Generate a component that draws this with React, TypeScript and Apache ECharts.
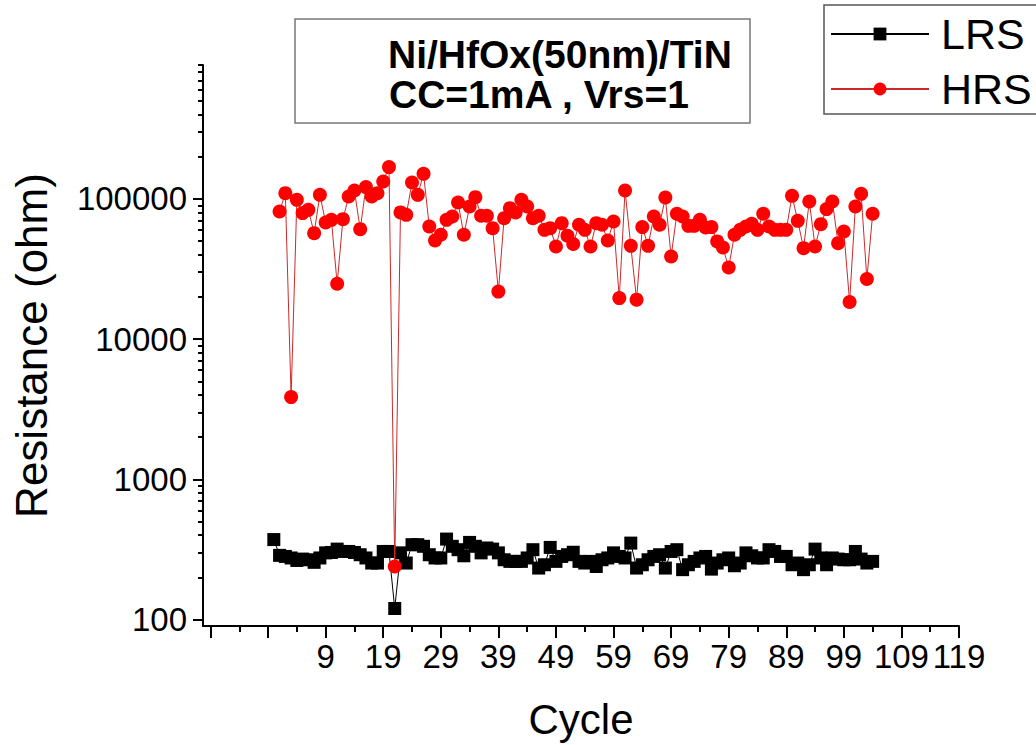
import React, { useEffect, useRef } from "react";
import * as echarts from "echarts";

// ---- data ----
const lrsCycles: number[] = Array.from({ length: 105 }, (_, i) => i); // 0..104
const lrsValues: number[] = [
  372, 287, 282, 275, 264, 270, 267, 256, 275, 299,
  301, 318, 306, 306, 301, 290, 275, 253, 253, 306,
  306, 120, 299, 253, 342, 342, 333, 290, 275, 275,
  375, 333, 315, 285, 355, 333, 299, 324, 318, 299,
  267, 260, 260, 260, 275, 315, 233, 246, 327, 260,
  282, 290, 302, 260, 253, 260, 239, 267, 275, 299,
  282, 275, 351, 233, 246, 267, 282, 290, 233, 306,
  315, 227, 246, 260, 275, 282, 229, 253, 267, 275,
  242, 253, 299, 285, 275, 275, 315, 306, 282, 282,
  246, 253, 227, 246, 318, 275, 246, 275, 270, 267,
  267, 306, 270, 253, 260,
];
const hrsCycles: number[] = Array.from({ length: 104 }, (_, i) => i + 1); // 1..104
const hrsValues: number[] = [
  81200, 109800, 3860, 98400, 79100, 83500, 56900, 106800, 67800, 70800,
  24800, 71600, 103800, 114600, 60800, 121200, 103800, 109800, 132900, 168300,
  239, 80000, 76900, 130700, 106800, 150700, 63500, 50500, 55400, 70800,
  74800, 94100, 55400, 88100, 102800, 75700, 75700, 61800, 21800, 72800,
  85800, 80000, 98400, 88100, 72800, 75700, 60100, 61800, 45700, 67100,
  54500, 47600, 65300, 60100, 45700, 67100, 65300, 50500, 68900, 19600,
  114600, 46200, 19100, 62900, 46200, 74800, 65300, 102200, 38800, 78200,
  74800, 64200, 64200, 70800, 62500, 62900, 49700, 45000, 32400, 55400,
  60100, 63500, 66400, 60100, 78200, 63500, 60100, 60100, 60100, 105000,
  69700, 44500, 95700, 45700, 66000, 84500, 95700, 48300, 58500, 18400,
  88100, 108500, 26800, 78200,
];
const xMajorTicks: number[] = [-11, -1, 9, 19, 29, 39, 49, 59, 69, 79, 89, 99, 109, 119];
const xLabelTicks: number[] = [9, 19, 29, 39, 49, 59, 69, 79, 89, 99, 109, 119];
const xMinorTicks: number[] = [-6, 4, 14, 24, 34, 44, 54, 64, 74, 84, 94, 104, 114];
const yMajorTicks: number[] = [100, 1000, 10000, 100000];
const yMinorTicks: number[] = [
  200, 300, 400, 500, 600, 700, 800, 900,
  2000, 3000, 4000, 5000, 6000, 7000, 8000, 9000,
  20000, 30000, 40000, 50000, 60000, 70000, 80000, 90000,
  200000, 300000, 400000, 500000, 600000, 700000, 800000, 900000,
];
const titleLines: string[] = ["Ni/HfOx(50nm)/TiN", "CC=1mA , Vrs=1"];

const FONT = "'Liberation Sans', Arial, sans-serif";

export default function App() {
  const ref = useRef<HTMLDivElement>(null);
  useEffect(() => {
    if (!ref.current) return;
    const chart = echarts.init(ref.current, undefined, { renderer: "svg" });
    const xMin = -12.3;
    const xMax = 119;
    const yMin = 90;
    const yMax = 900000;
    const axisLineStyle = { color: "#000", width: 2 };
    chart.setOption({
      animation: false,
      backgroundColor: "#fff",
      textStyle: { fontFamily: FONT },
      grid: { left: 203, right: 77, top: 65, bottom: 119, containLabel: false, outerBoundsMode: "none" },
      legend: {
        data: ["LRS", "HRS"],
        orient: "vertical",
        left: 824,
        top: 5,
        width: 209,
        padding: [6, 6, 2, 6],
        itemGap: 9,
        itemWidth: 98,
        itemHeight: 16,
        borderColor: "#555",
        borderWidth: 1.5,
        textStyle: { fontSize: 43, color: "#000", fontFamily: FONT, padding: [0, 0, 0, 7], lineHeight: 46 },
      },
      xAxis: [
        {
          type: "value",
          min: xMin,
          max: xMax,
          name: "Cycle",
          nameLocation: "middle",
          nameGap: 72,
          nameTextStyle: { fontSize: 42, color: "#000", fontFamily: FONT },
          axisLine: { show: true, onZero: false, lineStyle: axisLineStyle },
          axisTick: { show: true, inside: false, length: 12, lineStyle: { color: "#000", width: 2 }, customValues: xMajorTicks },
          axisLabel: { show: true, fontSize: 33, color: "#000", margin: 14, fontFamily: FONT, customValues: xLabelTicks },
          splitLine: { show: false },
        },
        {
          type: "value",
          min: xMin,
          max: xMax,
          position: "bottom",
          axisLine: { show: false, onZero: false },
          axisTick: { show: true, length: 6, lineStyle: { color: "#000", width: 2 }, customValues: xMinorTicks },
          axisLabel: { show: false },
          splitLine: { show: false },
        },
      ],
      yAxis: [
        {
          type: "log",
          logBase: 10,
          min: yMin,
          max: yMax,
          name: "Resistance (ohm)",
          nameLocation: "middle",
          nameGap: 150,
          nameTextStyle: { fontSize: 44, color: "#000", fontFamily: FONT },
          axisLine: { show: true, onZero: false, lineStyle: axisLineStyle },
          axisTick: { show: true, length: 10, lineStyle: { color: "#000", width: 2 }, customValues: yMajorTicks },
          axisLabel: {
            show: true,
            fontSize: 33,
            color: "#000",
            margin: 16,
            fontFamily: FONT,
            customValues: yMajorTicks,
            formatter: (v: number) => String(Math.round(v)),
          },
          splitLine: { show: false },
        },
        {
          type: "log",
          logBase: 10,
          min: yMin,
          max: yMax,
          position: "left",
          axisLine: { show: false, onZero: false },
          axisTick: { show: true, length: 5, lineStyle: { color: "#000", width: 2 }, customValues: yMinorTicks },
          axisLabel: { show: false },
          splitLine: { show: false },
        },
      ],
      series: [
        {
          name: "LRS",
          type: "line",
          xAxisIndex: 0,
          yAxisIndex: 0,
          data: lrsCycles.map((c, i) => [c, lrsValues[i]]),
          symbol: "rect",
          symbolSize: 13,
          itemStyle: { color: "#000" },
          lineStyle: { color: "#000", width: 1 },
          z: 2,
        },
        {
          name: "HRS",
          type: "line",
          xAxisIndex: 0,
          yAxisIndex: 0,
          data: hrsCycles.map((c, i) => [c, hrsValues[i]]),
          symbol: "circle",
          symbolSize: 14,
          itemStyle: { color: "#ff0000" },
          lineStyle: { color: "#cc2a2a", width: 1 },
          z: 3,
        },
      ],
      graphic: [
        {
          type: "rect",
          shape: { x: 295, y: 19, width: 455, height: 104 },
          style: { fill: "#fff", stroke: "#777", lineWidth: 1.5 },
          z: 10,
        },
        {
          type: "text",
          x: 388,
          y: 54,
          style: { text: titleLines[0], font: `bold 39px ${FONT}`, fill: "#000", verticalAlign: "middle", align: "left" },
          z: 11,
        },
        {
          type: "text",
          x: 389,
          y: 94,
          style: { text: titleLines[1], font: `bold 39px ${FONT}`, fill: "#000", verticalAlign: "middle", align: "left" },
          z: 11,
        },
      ],
    });
    return () => chart.dispose();
  }, []);
  return <div ref={ref} style={{ width: 1036, height: 745, position: "absolute", left: 0, top: 0 }} />;
}
